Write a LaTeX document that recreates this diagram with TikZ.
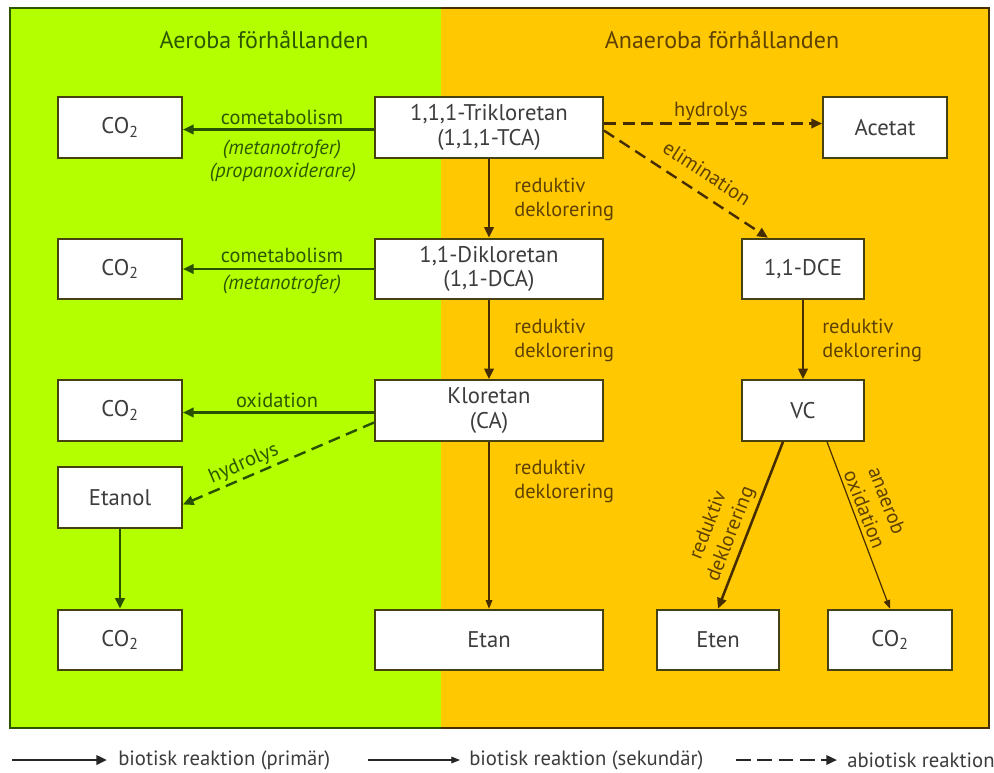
\documentclass[tikz,border=0pt]{standalone}
\usepackage{fontspec}
\setmainfont{PT Sans}
\usetikzlibrary{arrows.meta,calc}

\definecolor{aerofill}{RGB}{180,255,0}
\definecolor{anaerofill}{RGB}{255,200,0}
\definecolor{aeroedge}{RGB}{45,85,0}
\definecolor{anaeroedge}{RGB}{70,45,5}
\definecolor{aerotext}{RGB}{45,88,0}
\definecolor{anaerotext}{RGB}{95,65,0}
\definecolor{aeroarrow}{RGB}{40,80,0}
\definecolor{anaeroarrow}{RGB}{70,45,0}
\definecolor{boxline}{RGB}{70,65,20}
\definecolor{boxtext}{RGB}{60,60,60}
\definecolor{legendtext}{RGB}{60,60,60}

\newcommand\bxfont{\fontsize{17}{18.5}\selectfont}
\newcommand\lblfont{\fontsize{15.3}{18}\selectfont}
\newcommand\hdfont{\fontsize{18}{20}\selectfont}
\newcommand\lgfont{\fontsize{15.5}{18}\selectfont}

\begin{document}
\begin{tikzpicture}[x=0.75pt,y=-0.75pt,
  box/.style={draw=boxline, fill=white, line width=1.4pt, inner sep=0pt,
    minimum height=45.5pt, font=\bxfont, text=boxtext, align=center},
  wide/.style={minimum width=171pt},
  mid/.style={minimum width=93pt},
  slim/.style={minimum width=91.5pt},
  prim/.style={line width=1.9pt, -{Triangle[length=8pt,width=7pt]}},
  sec/.style={line width=0.9pt, -{Triangle[length=6.5pt,width=5pt]}},
  abio/.style={line width=1.8pt, dash pattern=on 9pt off 5pt,
    -{Triangle[length=8pt,width=7pt]}},
  glbl/.style={font=\lblfont, text=aerotext, inner sep=0pt},
  olbl/.style={font=\lblfont, text=anaerotext, inner sep=0pt},
  legtext/.style={font=\lgfont, text=legendtext, anchor=west, inner sep=0pt}]

\useasboundingbox (0,0) rectangle (994,772);

% the two zones
\fill[aerofill] (10,8) rectangle (441,728);
\fill[anaerofill] (441,8) rectangle (989,728);
\draw[aeroedge, line width=1.5pt] (441,8) -- (10,8) -- (10,728) -- (441,728);
\draw[anaeroedge, line width=1.5pt] (441,8) -- (989,8) -- (989,728) -- (441,728);

\node[font=\hdfont, text=aerotext] (hdA) at (264,40) {Aeroba förhållanden};
\node[font=\hdfont, text=anaerotext] (hdB) at (722,40) {Anaeroba förhållanden};

% compounds
\node[box, mid]  (co2a)   at (120,127.5) {CO\textsubscript{2}};
\node[box, wide] (tca)    at (489,127.5) {1,1,1-Trikloretan\\(1,1,1-TCA)};
\node[box, mid]  (acetat) at (885,127.5) {Acetat};
\node[box, mid]  (co2b)   at (120,269)   {CO\textsubscript{2}};
\node[box, wide] (dca)    at (489,269)   {1,1-Dikloretan\\(1,1-DCA)};
\node[box, slim] (dce)    at (803,269)   {1,1-DCE};
\node[box, mid]  (co2c)   at (120,410.5) {CO\textsubscript{2}};
\node[box, wide] (ca)     at (489,410.5) {Kloretan\\(CA)};
\node[box, slim] (vc)     at (803,410.5) {VC};
\node[box, mid]  (etanol) at (120,497.5) {Etanol};
\node[box, mid]  (co2d)   at (120,640)   {CO\textsubscript{2}};
\node[box, wide] (etan)   at (489,640)   {Etan};
\node[box, slim] (eten)   at (718,640)   {Eten};
\node[box, mid]  (co2e)   at (890,640)   {CO\textsubscript{2}};

% aerobic pathways
\draw[prim, aeroarrow] ($(tca.west)+(0,2)$) -- ($(co2a.east)+(0,2)$);
\node[glbl] (l1) at (282,117) {cometabolism};
\node[glbl, font=\lblfont\itshape] (l2) at (282,149) {(metanotrofer)};
\node[glbl, font=\lblfont\itshape] (l3) at (283,172) {(propanoxiderare)};

\draw[prim, aeroarrow] (dca.west) -- (co2b.east);
\node[glbl] (l4) at (282,255) {cometabolism};
\node[glbl, font=\lblfont\itshape] (l5) at (282,284) {(metanotrofer)};

\draw[prim, aeroarrow] ($(ca.west)+(0,2)$) -- ($(co2c.east)+(0,2)$);
\node[glbl] (l6) at (277,400) {oxidation};

\draw[abio, aeroarrow] ($(ca.west)+(0,12)$) -- ($(etanol.east)+(0,7)$);
\node[glbl, rotate=23.3] (l7) at (244,464) {hydrolys};

\draw[prim, aeroarrow] (etanol.south) -- (co2d.north);

% anaerobic pathways
\draw[abio, anaeroarrow] ($(tca.east)+(0,-4)$) -- ($(acetat.west)+(0,-4)$);
\node[olbl] (l8) at (711,111) {hydrolys};

\draw[abio, anaeroarrow] ($(tca.east)+(0,3)$) -- ($(dce.north)+(-35,0)$);
\node[olbl, rotate=-33] (l9) at (707,173) {elimination};

\draw[prim, anaeroarrow] (tca.south) -- (dca.north);
\node[olbl, anchor=west, align=left] (l10) at (514,199) {reduktiv\\deklorering};

\draw[prim, anaeroarrow] (dca.south) -- (ca.north);
\node[olbl, anchor=west, align=left] (l11) at (514,340) {reduktiv\\deklorering};

\draw[sec, anaeroarrow] (ca.south) -- (etan.north);
\node[olbl, anchor=west, align=left] (l12) at (514,481) {reduktiv\\deklorering};

\draw[prim, anaeroarrow] (dce.south) -- (vc.north);
\node[olbl, anchor=west, align=left] (l13) at (822,340) {reduktiv\\deklorering};

\draw[prim, anaeroarrow] ($(vc.south)+(-20,0)$) -- (eten.north);
\node[olbl, rotate=68.7, align=center] (l14) at (720,530) {reduktiv\\deklorering};

\draw[sec, anaeroarrow] ($(vc.south)+(24,0)$) -- (co2e.north);
\node[olbl, rotate=-68.7, align=center] (l15) at (876,505) {anaerob\\oxidation};

% legend
\coordinate (p1) at (12,760);  \coordinate (p2) at (107,760);
\coordinate (s1) at (368,760); \coordinate (s2) at (460,760);
\coordinate (a1) at (736,760); \coordinate (a2) at (837,760);
\draw[prim, black!85] (p1) -- (p2);
\draw[sec, black!85] (s1) -- (s2);
\draw[abio, black!85, dash pattern=on 11pt off 5pt] (a1) -- (a2);
\node[legtext] (t1) at (118,760) {biotisk reaktion (primär)};
\node[legtext] (t2) at (469,760) {biotisk reaktion (sekundär)};
\node[legtext] (t3) at (847,760) {abiotisk reaktion};
\end{tikzpicture}
\end{document}
